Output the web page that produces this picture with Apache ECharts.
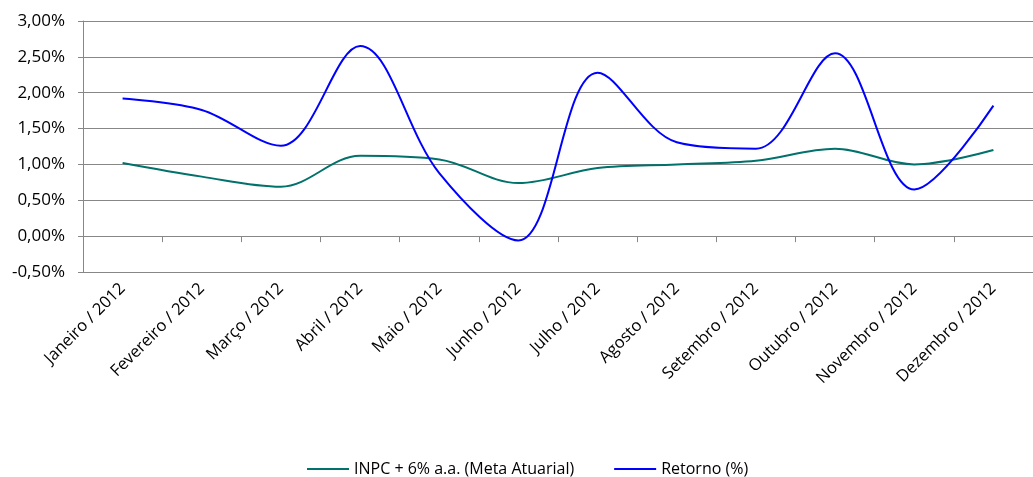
<!DOCTYPE html>
<html>
<head>
<meta charset="utf-8">
<script src="https://cdn.jsdelivr.net/npm/echarts@6/dist/echarts.min.js"></script>
<style>
html,body{margin:0;padding:0;background:#fff;}
#c{width:1033px;height:477px;}
</style>
</head>
<body>
<div id="c"></div>
<script>
var categories = ['Janeiro / 2012','Fevereiro / 2012','Março / 2012','Abril / 2012','Maio / 2012','Junho / 2012','Julho / 2012','Agosto / 2012','Setembro / 2012','Outubro / 2012','Novembro / 2012','Dezembro / 2012'];
var inpcMeta = [1.02, 0.83, 0.69, 1.12, 1.07, 0.74, 0.95, 1.00, 1.05, 1.22, 1.00, 1.20];
var retorno = [1.92, 1.76, 1.26, 2.65, 0.88, -0.06, 2.28, 1.31, 1.22, 2.55, 0.65, 1.82];
var seriesNames = ['INPC + 6% a.a. (Meta Atuarial)', 'Retorno (%)'];

var FONT = 'Open Sans';
var GRID = '#878787';
var chart = echarts.init(document.getElementById('c'));
chart.setOption({
  animation: false,
  textStyle: {fontFamily: FONT},
  grid: {left: 83, top: 21, width: 960, height: 251, containLabel: false},
  legend: {
    left: 302, top: 456,
    icon: 'rect',
    itemWidth: 42, itemHeight: 2, itemGap: 40,
    textStyle: {fontFamily: FONT, fontSize: 16, color: '#000'},
    data: seriesNames
  },
  xAxis: [{
    type: 'category', data: categories, position: 'top',
    axisLine: {onZero: true, lineStyle: {color: GRID, width: 1}},
    axisTick: {show: true, inside: true, interval: 0, length: 6, lineStyle: {color: GRID}},
    axisLabel: {show: false},
    splitLine: {show: false}
  }, {
    type: 'category', data: categories, position: 'bottom',
    axisLine: {show: false, onZero: false},
    axisTick: {show: false},
    axisLabel: {rotate: 45, margin: 14, fontFamily: FONT, fontSize: 16.5, color: '#000', interval: 0},
    splitLine: {show: false}
  }],
  yAxis: {
    type: 'value', min: -0.5, max: 3, interval: 0.5,
    axisLine: {show: true, lineStyle: {color: GRID}},
    axisTick: {show: true, length: 5, lineStyle: {color: GRID}},
    axisLabel: {margin: 18, fontFamily: FONT, fontSize: 17, color: '#000',
      formatter: function (v) { return v.toFixed(2).replace('.', ',') + '%'; }},
    splitLine: {show: true, lineStyle: {color: GRID, width: 1}}
  },
  series: [{
    name: seriesNames[0], type: 'line', data: inpcMeta, xAxisIndex: 0,
    smooth: 0.35, symbol: 'none',
    lineStyle: {color: '#00716B', width: 2}, itemStyle: {color: '#00716B'}
  }, {
    name: seriesNames[1], type: 'line', data: retorno, xAxisIndex: 0,
    smooth: 0.35, symbol: 'none',
    lineStyle: {color: '#0000FF', width: 2}, itemStyle: {color: '#0000FF'}
  }]
});
</script>
</body>
</html>
